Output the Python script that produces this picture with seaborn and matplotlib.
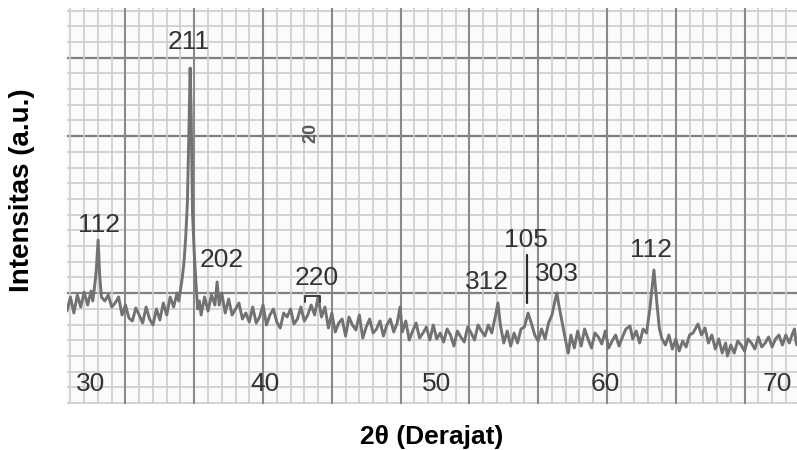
import matplotlib
matplotlib.use("Agg")
import matplotlib.pyplot as plt
import numpy as np
import pandas as pd
import seaborn as sns

# ---- data ----
two_theta = [28.6, 28.8, 29.0, 29.2, 29.4, 29.6, 29.8, 30.0, 30.1, 30.2, 30.3, 30.41, 30.5, 30.6, 30.8,
             31.0, 31.2, 31.4, 31.6, 31.8, 32.0, 32.2, 32.4, 32.6, 32.8, 33.0, 33.2, 33.4, 33.6, 33.8,
             34.0, 34.2, 34.4, 34.6, 34.8, 35.0, 35.1, 35.2, 35.3, 35.4, 35.5, 35.6, 35.7, 35.76, 35.82,
             35.9, 36.0, 36.1, 36.2, 36.3, 36.4, 36.6, 36.8, 37.0, 37.2, 37.33, 37.45, 37.6, 37.8,
             38.0, 38.2, 38.4, 38.6, 38.8, 39.0, 39.2, 39.4, 39.6, 39.8, 40.0, 40.2, 40.4, 40.6, 40.8,
             41.0, 41.2, 41.4, 41.6, 41.8, 42.0, 42.2, 42.4, 42.6, 42.8, 43.0, 43.2, 43.4, 43.6, 43.8,
             44.0, 44.2, 44.4, 44.6, 44.8, 45.0, 45.2, 45.4, 45.6, 45.8, 46.0, 46.2, 46.4, 46.6, 46.8,
             47.0, 47.2, 47.4, 47.6, 47.8, 47.97, 48.1, 48.3, 48.5, 48.7, 48.9, 49.1, 49.3, 49.5, 49.7,
             49.9, 50.1, 50.3, 50.5, 50.7, 50.9, 51.1, 51.3, 51.5, 51.7, 51.9, 52.1, 52.3, 52.5, 52.7,
             52.9, 53.1, 53.3, 53.5, 53.66, 53.8, 54.0, 54.2, 54.4, 54.6, 54.8, 55.0, 55.2, 55.41, 55.6,
             55.8, 56.0, 56.2, 56.4, 56.6, 56.8, 57.0, 57.09, 57.2, 57.4, 57.6, 57.75, 57.9, 58.1, 58.3,
             58.5, 58.7, 58.9, 59.1, 59.3, 59.5, 59.7, 59.9, 60.1, 60.3, 60.5, 60.7, 60.9, 61.1, 61.34,
             61.5, 61.7, 61.9, 62.1, 62.3, 62.5, 62.73, 62.9, 63.05, 63.2, 63.4, 63.6, 63.8, 64.0, 64.2,
             64.4, 64.6, 64.8, 65.0, 65.29, 65.5, 65.7, 65.9, 66.1, 66.3, 66.5, 66.7, 66.9, 67.0, 67.2,
             67.4, 67.6, 67.8, 68.0, 68.2, 68.4, 68.6, 68.8, 69.0, 69.2, 69.4, 69.6, 69.8, 70.0, 70.2,
             70.4, 70.6, 70.8, 70.9, 71.0, 71.05]
intensity = [92, 106, 90, 108, 96, 111, 98, 112, 102, 116, 132, 163, 128, 106, 102,
             108, 96, 100, 106, 88, 98, 85, 82, 95, 88, 80, 96, 84, 78, 94,
             83, 100, 88, 106, 96, 110, 102, 113, 125, 140, 165, 200, 280, 335, 290,
             190, 150, 120, 94, 102, 88, 106, 92, 108, 98, 121, 98, 110, 90,
             104, 88, 94, 100, 84, 90, 81, 96, 80, 86, 98, 78, 88, 94, 81,
             75, 90, 86, 94, 79, 84, 96, 82, 88, 98, 88, 106, 86, 96, 75,
             90, 71, 80, 84, 67, 86, 78, 73, 88, 65, 76, 84, 70, 74, 82,
             67, 78, 84, 71, 80, 96, 71, 82, 63, 72, 80, 65, 70, 76, 63,
             78, 64, 70, 61, 74, 68, 57, 72, 66, 61, 76, 70, 63, 78, 72,
             67, 78, 70, 86, 100, 78, 60, 72, 57, 70, 60, 74, 76, 90, 80,
             68, 62, 74, 64, 80, 88, 104, 110, 98, 80, 62, 50, 68, 55, 72,
             57, 74, 64, 55, 70, 66, 59, 72, 55, 62, 68, 57, 66, 74, 77,
             64, 72, 60, 74, 70, 95, 133, 100, 74, 64, 58, 68, 54, 64, 52,
             62, 56, 68, 70, 79, 68, 75, 60, 68, 54, 64, 50, 60, 47, 58,
             50, 62, 58, 52, 64, 60, 54, 66, 56, 60, 66, 56, 64, 68, 58,
             68, 60, 70, 74, 60, 58]

peak_labels = ["112", "211", "202", "220", "312", "105", "303", "112"]
peak_label_x = [30.46, 35.69, 37.62, 43.14, 53.02, 55.29, 57.09, 62.55]
peak_label_y = [178, 361, 143, 125, 121, 163, 129, 153]

axis_numbers = ["30", "40", "50", "60", "70"]
axis_number_x = [30.0, 40.1, 50.1, 59.9, 69.9]
axis_number_y = 19

df = pd.DataFrame({"two_theta": two_theta, "intensity": intensity})

# ---- figure ----
sns.set_theme(style="white")
plt.rcParams["font.family"] = ["Liberation Sans", "DejaVu Sans"]

fig = plt.figure(figsize=(7.97, 4.5), dpi=100)
ax = fig.add_axes([67 / 797, 1 - 404 / 450, 1 - 67 / 797, 396 / 450])
ax.set_facecolor("#fbfbfb")

x_lo, x_hi = 28.6, 71.05
y_lo, y_hi = -1, 395
ax.set_xlim(x_lo, x_hi)
ax.set_ylim(y_lo, y_hi)

# graph-paper grid
sq = 15.7
for k in range(0, 26):
    yv = sq * k
    major = k in (7, 17, 22)
    ax.axhline(yv, color="#808080" if major else "#cdcdcd",
               lw=1.6 if major else 1.2, zorder=1)
for k in range(0, 56):
    xv = 28.0 + 0.8 * k
    if xv < x_lo - 0.01 or xv > x_hi + 0.01:
        continue
    major = (k % 5 == 0)
    ax.axvline(xv, color="#8a8a8a" if major else "#cdcdcd",
               lw=1.5 if major else 1.2, zorder=1)

sns.lineplot(data=df, x="two_theta", y="intensity", ax=ax, color="#727272",
             lw=2.1, sort=False, zorder=3)

for lab, xv, yv in zip(peak_labels, peak_label_x, peak_label_y):
    ax.text(xv, yv, lab, ha="center", va="center", fontsize=19,
            color="#333333", zorder=4)

# marks next to labels
ax.plot([55.35, 55.35], [100, 148], color="#2a2a2a", lw=1.6, zorder=4)
ax.plot([42.44, 42.44, 43.31, 43.31], [101, 107, 107, 101], color="#3a3a3a", lw=1.4, zorder=4)

for lab, xv in zip(axis_numbers, axis_number_x):
    ax.text(xv, axis_number_y, lab, ha="center", va="center", fontsize=19,
            color="#333333", zorder=4)

ax.text(42.79, 270, "20", rotation=90, ha="center", va="center", fontsize=13,
        fontweight="bold", color="#5a5a5a", zorder=4)

ax.set_xticks([])
ax.set_yticks([])
for s in ax.spines.values():
    s.set_visible(False)
ax.set_xlabel("")
ax.set_ylabel("")

fig.text(432 / 797, 1 - 437 / 450, "2θ (Derajat)", ha="center", va="center",
         fontsize=19, fontweight="bold", color="black")
fig.text(22 / 797, 1 - 190 / 450, "Intensitas (a.u.)", rotation=90, ha="center",
         va="center", fontsize=20, fontweight="bold", color="black")

fig.savefig("out.png", dpi=100)
